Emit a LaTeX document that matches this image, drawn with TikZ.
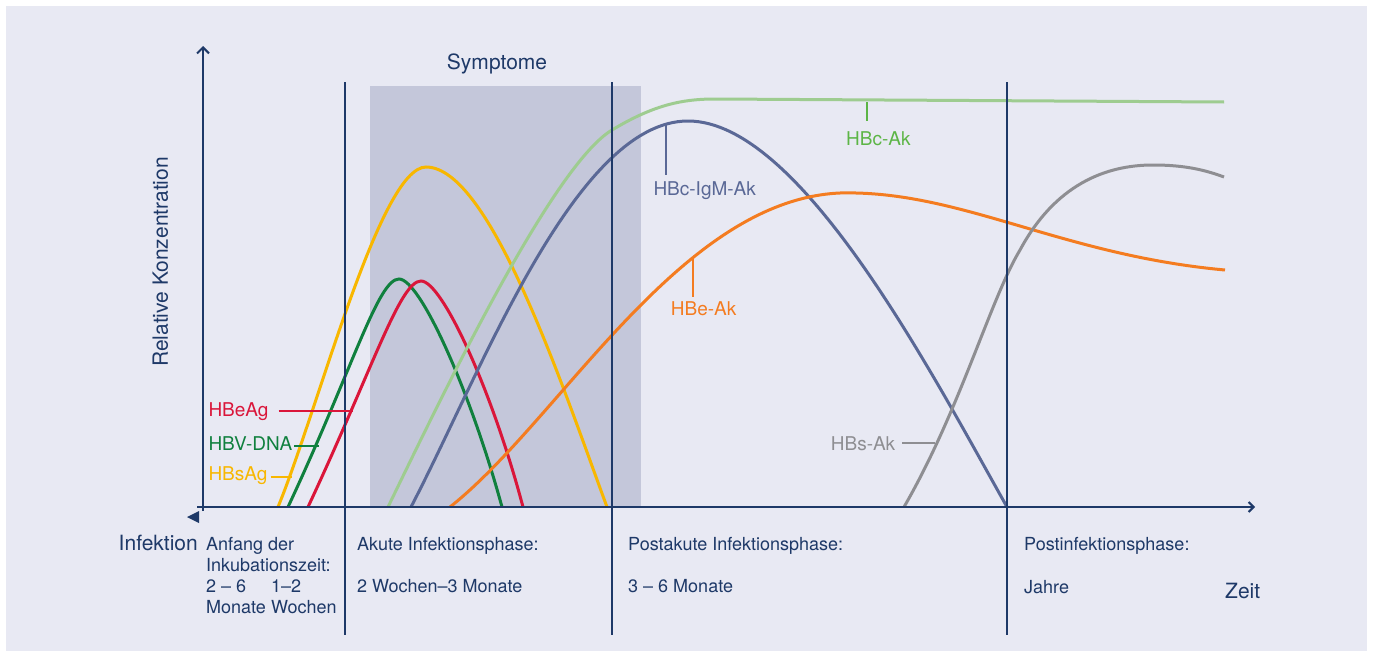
\documentclass[tikz,border=0pt]{standalone}
\usepackage{fontspec}
\setmainfont{TeX Gyre Heros}
\usetikzlibrary{arrows.meta}

\definecolor{bgblue}{RGB}{232,233,243}
\definecolor{navy}{RGB}{30,57,104}
\definecolor{bandgray}{RGB}{196,199,218}
\definecolor{hbsag}{RGB}{248,183,0}
\definecolor{hbvdna}{RGB}{16,128,62}
\definecolor{hbeag}{RGB}{218,22,58}
\definecolor{hbcak}{RGB}{158,204,144}
\definecolor{hbcaktext}{RGB}{92,181,70}
\definecolor{hbcigm}{RGB}{90,104,150}
\definecolor{hbeak}{RGB}{244,124,32}
\definecolor{hbsak}{RGB}{142,142,146}

\tikzset{
    axis/.style={navy, line width=2pt},
    phase/.style={navy, line width=2pt},
    curve/.style={line width=3pt},
    leader/.style={line width=1.6pt},
    lbl/.style={inner sep=0pt, anchor=base west, font=\fontsize{19}{22}\selectfont},
    phasetext/.style={inner sep=0pt, anchor=base west, align=left, text=navy,
        font=\fontsize{18}{21.3}\selectfont},
    bigtext/.style={inner sep=0pt, text=navy, font=\fontsize{21}{24}\selectfont},
}

\begin{document}
\begin{tikzpicture}[x=1pt, y=-1pt]
        \useasboundingbox (0,0) rectangle (1373,653);
        % Background and symptom band
        \fill[white] (0,0) rectangle (1373,653);
        \fill[bgblue] (6,6) rectangle (1367,651);
        \fill[bandgray] (370,86) rectangle (641,507);

        % Add the curves
        \draw[curve, hbsag] (278,507) .. controls (318,410) and (380,167) .. (426,167)
            .. controls (490,167) and (562,385) .. (607,507);
        \draw[curve, hbvdna] (288,507) .. controls (353,368) and (378,279) .. (399,279)
            .. controls (420,279) and (470,390) .. (502,507);
        \draw[curve, hbeag] (308,507) .. controls (373,368) and (400,281) .. (421,281)
            .. controls (442,281) and (492,390) .. (523,507);
        \draw[curve, hbcak] (388,507) .. controls (440,400) and (552,166) .. (612,130)
            .. controls (652,106) and (680,99) .. (715,99) -- (1224,102);
        \draw[curve, hbcigm] (411,507) .. controls (480,375) and (575,121) .. (688,121)
            .. controls (800,121) and (930,370) .. (1007,507);
        \draw[curve, hbeak] (450,507) .. controls (560,420) and (680,200) .. (840,193)
            .. controls (960,190) and (1060,255) .. (1225,270);
        \draw[curve, hbsak] (904,507) .. controls (960,410) and (990,300) .. (1020,250)
            .. controls (1055,185) and (1105,165) .. (1153,165)
            .. controls (1185,165) and (1205,170) .. (1224,177);

        % Add the phase borders and axes
        \foreach \x in {345,612,1007}
            \draw[phase] (\x,82) -- (\x,635);
        \draw[axis, -{Straight Barb[length=6pt, width=12pt]}] (203,511) -- (203,46);
        \draw[axis, -{Straight Barb[length=5pt, width=10pt]}] (197,507) -- (1255,507);
        \fill[navy] (187,517) -- (199,511) -- (199,523) -- cycle;

        % Add the axis texts
        \node[bigtext, anchor=base] (symptome) at (497,69) {Symptome};
        \node[bigtext, anchor=base east] (infektion) at (198,550.5) {Infektion};
        \node[bigtext, anchor=base west] (zeit) at (1225,598.3) {Zeit};
        \node[bigtext, rotate=90] (konz) at (160.5,262) {Relative Konzentration};

        % Add the phases (base = last line)
        \node[phasetext] (anfang) at (206,571.5) {Anfang der\\Inkubationszeit:};
        \node[phasetext] (monate) at (206,613.3) {2 – 6\\Monate};
        \node[phasetext] (wochen) at (271,613.3) {1–2\\Wochen};
        \node[phasetext] (akut) at (357,550.3) {Akute Infektionsphase:};
        \node[phasetext] (akutdauer) at (357,592.5) {2 Wochen–3 Monate};
        \node[phasetext] (postakut) at (628,550.3) {Postakute Infektionsphase:};
        \node[phasetext] (postakutdauer) at (628,592.5) {3 – 6 Monate};
        \node[phasetext] (postinf) at (1024,550.3) {Postinfektionsphase:};
        \node[phasetext] (jahre) at (1024,593) {Jahre};

        % Add the markers
        \node[lbl, text=hbeag] (lbeag) at (208.3,416.7) {HBeAg};
        \node[lbl, text=hbvdna] (lbvdna) at (208.3,450) {HBV-DNA};
        \node[lbl, text=hbsag] (lbsag) at (208.3,480) {HBsAg};
        \node[lbl, text=hbcaktext] (lbcak) at (846,145) {HBc-Ak};
        \node[lbl, text=hbcigm] (lbcigm) at (653.3,195) {HBc-IgM-Ak};
        \node[lbl, text=hbeak] (lbeak) at (670.7,315) {HBe-Ak};
        \node[lbl, text=hbsak] (lbsak) at (830.7,450) {HBs-Ak};

        \coordinate (tbeag) at (353,411);
        \coordinate (tbvdna) at (319,446);
        \coordinate (tbsag) at (292,477);
        \coordinate (tcak) at (866.7,101.7);
        \coordinate (tcigm) at (665.7,125);
        \coordinate (teak) at (692.7,258);
        \coordinate (tsak) at (935,443);

        \draw[leader, hbeag] (lbeag.east |- tbeag) ++(10,0) -- (tbeag);
        \draw[leader, hbvdna] (lbvdna.east |- tbvdna) ++(2,0) -- (tbvdna);
        \draw[leader, hbsag] (lbsag.east |- tbsag) ++(3,0) -- (tbsag);
        \draw[leader, hbcaktext] (tcak |- lbcak.north) ++(0,-10) -- (tcak);
        \draw[leader, hbcigm] (tcigm |- lbcigm.north) ++(0,-6) -- (tcigm);
        \draw[leader, hbeak] (teak |- lbeak.north) ++(0,-4) -- (teak);
        \draw[leader, hbsak] (lbsak.east |- tsak) ++(7,0) -- (tsak);
\end{tikzpicture}
\end{document}
